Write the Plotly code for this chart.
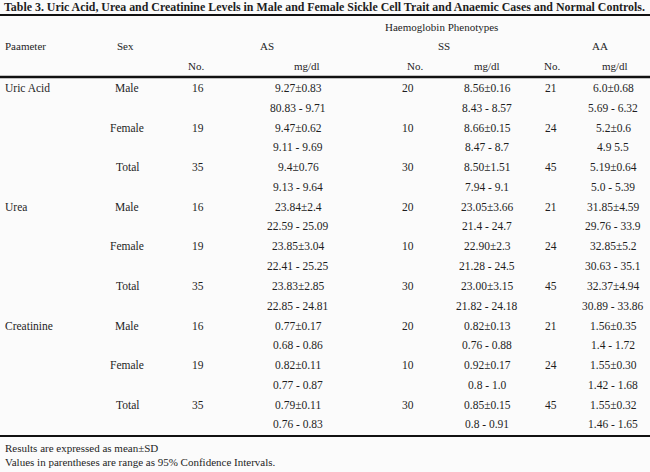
import plotly.graph_objects as go

# table values
params = ["Uric Acid", "Urea", "Creatinine"]
sexes = ["Male", "Female", "Total"]
as_no = [16, 19, 35]
ss_no = [20, 10, 30]
aa_no = [21, 24, 45]

as_mean = ["9.27±0.83", "9.47±0.62", "9.4±0.76",
           "23.84±2.4", "23.85±3.04", "23.83±2.85",
           "0.77±0.17", "0.82±0.11", "0.79±0.11"]
as_ci = ["80.83 - 9.71", "9.11 - 9.69", "9.13 - 9.64",
         "22.59 - 25.09", "22.41 - 25.25", "22.85 - 24.81",
         "0.68 - 0.86", "0.77 - 0.87", "0.76 - 0.83"]
ss_mean = ["8.56±0.16", "8.66±0.15", "8.50±1.51",
           "23.05±3.66", "22.90±2.3", "23.00±3.15",
           "0.82±0.13", "0.92±0.17", "0.85±0.15"]
ss_ci = ["8.43 - 8.57", "8.47 - 8.7", "7.94 - 9.1",
         "21.4 - 24.7", "21.28 - 24.5", "21.82 - 24.18",
         "0.76 - 0.88", "0.8 - 1.0", "0.8 - 0.91"]
aa_mean = ["6.0±0.68", "5.2±0.6", "5.19±0.64",
           "31.85±4.59", "32.85±5.2", "32.37±4.94",
           "1.56±0.35", "1.55±0.30", "1.55±0.32"]
aa_ci = ["5.69 - 6.32", "4.9 5.5", "5.0 - 5.39",
         "29.76 - 33.9", "30.63 - 35.1", "30.89 - 33.86",
         "1.4 - 1.72", "1.42 - 1.68", "1.46 - 1.65"]

title = "Table 3. Uric Acid, Urea and Creatinine Levels in Male and Female Sickle Cell Trait and Anaemic Cases and Normal Controls."
notes = ["Results are expressed as mean±SD",
         "Values in parentheses are range as 95% Confidence Intervals."]

FONT = "Liberation Serif"
COL = "#1e1e1e"

# column centres (page coordinates)
x_sex, x_asn, x_asv, x_ssn, x_ssv, x_aan, x_aav = 127, 198, 298, 408, 487, 551, 613
row0, row_step, ci_gap = 88, 39.6, 19.5

fig = go.Figure()
ann = []


def txt(x, y, s, size=11.5, anchor="center", bold=False):
    if bold:
        s = "<b>" + s + "</b>"
    ann.append(dict(x=x, y=y, xref="x", yref="y", text=s, showarrow=False,
                    xanchor=anchor, yanchor="middle",
                    font=dict(family=FONT, size=size, color=COL)))


txt(2, 7, title, size=11.9, anchor="left", bold=True)
txt(441, 27, "Haemoglobin Phenotypes", size=11)
txt(3, 46, "Paameter", size=11, anchor="left")
txt(125, 46, "Sex", size=11)
txt(267, 46, "AS", size=11)
txt(444, 46, "SS", size=11)
txt(600, 46, "AA", size=11)
for xn, xv in [(196, 307), (415, 487), (552, 615)]:
    txt(xn, 66, "No.", size=11)
    txt(xv, 66, "mg/dl", size=11)

for i in range(9):
    p, s = divmod(i, 3)
    y = row0 + row_step * i
    if s == 0:
        txt(3, y, params[p], anchor="left")
    txt(x_sex, y, sexes[s])
    txt(x_asn, y, str(as_no[s]))
    txt(x_ssn, y, str(ss_no[s]))
    txt(x_aan, y, str(aa_no[s]))
    txt(x_asv, y, as_mean[i])
    txt(x_ssv, y, ss_mean[i])
    txt(x_aav, y, aa_mean[i])
    txt(x_asv, y + ci_gap, as_ci[i])
    txt(x_ssv, y + ci_gap, ss_ci[i])
    txt(x_aav, y + ci_gap, aa_ci[i])

txt(3, 448, notes[0], size=11, anchor="left")
txt(3, 462, notes[1], size=11, anchor="left")

for y, w in [(15, 1.8), (77, 2.6), (436, 2)]:
    fig.add_shape(type="line", xref="x", yref="y", x0=0, x1=650, y0=y, y1=y,
                  line=dict(color="#111", width=w))

fig.update_layout(
    width=650, height=472,
    margin=dict(l=0, r=0, t=0, b=0),
    paper_bgcolor="#fbfbfb", plot_bgcolor="#fbfbfb",
    xaxis=dict(range=[0, 650], visible=False, fixedrange=True),
    yaxis=dict(range=[472, 0], visible=False, fixedrange=True),
    annotations=ann,
    showlegend=False,
)

# drop the page margin so the 650x472 figure fills the window
fig.write_html("out.html", config={"displayModeBar": False},
               post_script="document.body.style.margin='0';document.body.style.overflow='hidden';")
